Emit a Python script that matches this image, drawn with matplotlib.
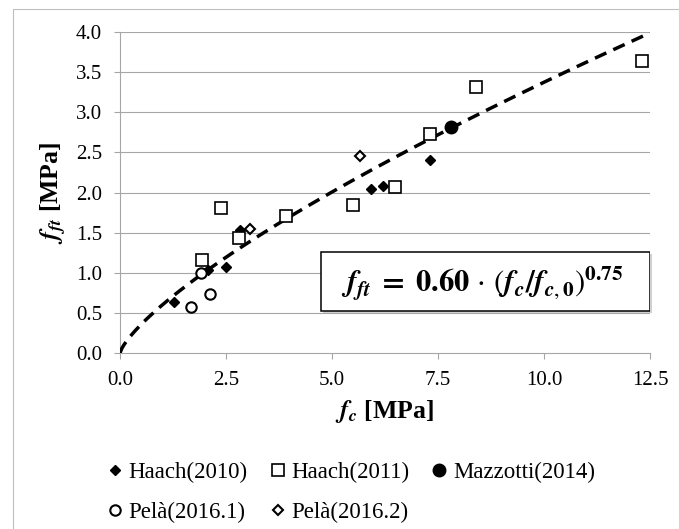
import numpy as np
import matplotlib
matplotlib.use("Agg")
import matplotlib.pyplot as plt
from matplotlib.patches import Rectangle

plt.rcParams['font.family'] = ['Liberation Serif', 'DejaVu Serif']
plt.rcParams['mathtext.fontset'] = 'stix'

# data (fc [MPa], fft [MPa])
haach2010_fc = [1.27, 2.08, 2.49, 2.83, 5.92, 6.21, 7.31]
haach2010_ft = [0.63, 1.04, 1.07, 1.53, 2.04, 2.08, 2.41]
haach2011_fc = [1.93, 2.39, 2.81, 3.92, 5.49, 6.49, 7.31, 8.40, 12.30]
haach2011_ft = [1.16, 1.81, 1.43, 1.71, 1.85, 2.07, 2.73, 3.31, 3.64]
mazzotti2014_fc = [7.81]
mazzotti2014_ft = [2.81]
pela20161_fc = [1.67, 1.90, 2.13]
pela20161_ft = [0.57, 1.00, 0.74]
pela20162_fc = [3.07, 5.65]
pela20162_ft = [1.54, 2.46]

# fitted law shown in the box
coef = 0.60
expo = 0.75
fc0 = 1.0

xticks = [0.0, 2.5, 5.0, 7.5, 10.0, 12.5]
yticks = [0.0, 0.5, 1.0, 1.5, 2.0, 2.5, 3.0, 3.5, 4.0]

grey = '#a6a6a6'
W, H = 679, 529
fig = plt.figure(figsize=(W / 100, H / 100), dpi=100)
ax = fig.add_axes([120 / W, 1 - 353 / H, 530 / W, 321 / H])

# outer chart frame (cut at right and bottom like the reference)
fig.patches.append(Rectangle((13 / W, -0.1), 1.2, 1.1 - 9 / H, transform=fig.transFigure,
                             fill=False, edgecolor='#bfbfbf', linewidth=0.8))

for y in yticks[1:]:
    ax.axhline(y, color=grey, lw=0.8, zorder=0)

fc = np.linspace(0, 12.5, 300)
ax.plot(fc, coef * (fc / fc0) ** expo, color='black', lw=2.5, dashes=(3.6, 2.2), zorder=3)

ax.plot(haach2010_fc, haach2010_ft, ls='none', marker='D', ms=5, mfc='black', mec='black',
        label='Haach(2010)', zorder=4)
ax.plot(haach2011_fc, haach2011_ft, ls='none', marker='s', ms=9, mfc='white', mec='black',
        mew=1.2, label='Haach(2011)', zorder=4)
ax.plot(mazzotti2014_fc, mazzotti2014_ft, ls='none', marker='o', ms=9, mfc='black', mec='black',
        label='Mazzotti(2014)', zorder=5)
ax.plot(pela20161_fc, pela20161_ft, ls='none', marker='o', ms=7.5, mfc='white', mec='black',
        mew=1.5, label='Pelà(2016.1)', zorder=4)
ax.plot(pela20162_fc, pela20162_ft, ls='none', marker='D', ms=5.5, mfc='white', mec='black',
        mew=1.5, label='Pelà(2016.2)', zorder=4)

ax.set_xlim(0, 12.5)
ax.set_ylim(0, 4.0)
ax.set_xticks(xticks)
ax.set_yticks(yticks)
ax.set_xticklabels(['%.1f' % v for v in xticks])
ax.set_yticklabels(['%.1f' % v for v in yticks])
ax.tick_params(labelsize=15, color=grey, length=4.5, width=0.8, pad=8.5)
for s in ['top', 'right']:
    ax.spines[s].set_visible(False)
for s in ['left', 'bottom']:
    ax.spines[s].set_color(grey)
    ax.spines[s].set_linewidth(0.8)

ax.set_xlabel(r'$\mathbfit{f}_{\mathbfit{c}}$ [MPa]', fontsize=18.5, fontweight='bold', labelpad=6)
ax.set_ylabel(r'$\mathbfit{f}_{\mathbfit{ft}}$ [MPa]', fontsize=18.5, fontweight='bold', labelpad=5)

# equation box with a faint shadow
ax.add_patch(Rectangle((203 / 530, 40 / 321), 329 / 530, 59 / 321, transform=ax.transAxes,
                       facecolor='#d0d0d0', edgecolor='none', zorder=5, clip_on=False))
ax.add_patch(Rectangle((201 / 530, 42 / 321), 329 / 530, 59 / 321, transform=ax.transAxes,
                       facecolor='white', edgecolor='black', lw=1.1, zorder=6))
eq = (r'$\mathbfit{f}_{\mathbfit{ft}}\;\mathbf{=}\;\mathbf{0.60}\,\cdot\,'
      r'\left(\mathbfit{f}_{\mathbfit{c}}\mathbf{/}\mathbfit{f}_{\mathbfit{c},\mathbf{0}}'
      r'\right)^{\mathbf{0.75}}$')
ax.text(362 / 530, 70 / 321, eq, transform=ax.transAxes, ha='center', va='center',
        fontsize=22, zorder=7)

h, l = ax.get_legend_handles_labels()
order = [0, 3, 1, 4, 2]
fig.legend([h[i] for i in order], [l[i] for i in order], ncol=3, loc='upper left',
           bbox_to_anchor=(108 / W, 1 - 462 / H), frameon=False, fontsize=16.5,
           handlelength=0.6, handletextpad=0.3, columnspacing=1.0, labelspacing=0.8,
           borderaxespad=0, borderpad=0)

fig.savefig('out.png', dpi=100)
